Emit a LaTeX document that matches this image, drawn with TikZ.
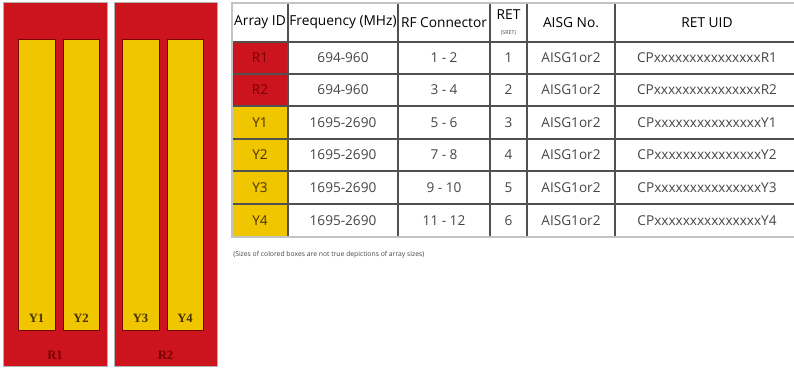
\documentclass[tikz,border=0pt]{standalone}
\usepackage{fontspec}
\setmainfont{Open Sans}
\newfontfamily\labfont{Liberation Serif}
\definecolor{ared}{RGB}{204,20,30}
\definecolor{ayel}{RGB}{240,198,0}
\definecolor{redtxt}{RGB}{120,0,0}
\definecolor{yeltxt}{RGB}{70,50,0}
\definecolor{innerline}{RGB}{80,80,80}
\definecolor{outerline}{RGB}{195,195,195}
\definecolor{bodytxt}{RGB}{70,70,70}
\begin{document}
\begin{tikzpicture}[x=0.75pt,y=-0.75pt,
  redpanel/.style={draw=black!30, line width=0.5pt, fill=ared},
  yelbar/.style={draw=redtxt, line width=0.5pt, fill=ayel},
  barlab/.style={font=\labfont\bfseries\fontsize{9.5}{10}\selectfont, text=yeltxt, inner sep=0pt},
  panlab/.style={font=\labfont\bfseries\fontsize{9.5}{10}\selectfont, text=redtxt, inner sep=0pt},
  hdr/.style={font=\fontsize{10.3}{12}\selectfont, text=black, inner sep=0pt},
  cell/.style={font=\fontsize{10.2}{12}\selectfont, text=bodytxt, inner sep=0pt},
  redcell/.style={font=\fontsize{10.2}{12}\selectfont, text=redtxt, inner sep=0pt},
  yelcell/.style={font=\fontsize{10.2}{12}\selectfont, text=yeltxt, inner sep=0pt},
  inner/.style={draw=innerline, line width=1.1pt},
  outer/.style={draw=outerline, line width=1.4pt}
]
\useasboundingbox (0,0) rectangle (794,369);
\fill[white] (0,0) rectangle (794,369);

% ---- left panels ----
\path[redpanel] (3,2) rectangle (107,366);
\path[redpanel] (114,2) rectangle (217,366);
\path[yelbar] (18,39) rectangle (55,330);
\path[yelbar] (63,39) rectangle (99,330);
\path[yelbar] (122,39) rectangle (159,330);
\path[yelbar] (167,39) rectangle (203,330);
\node[barlab] (ly1) at (36.5,318) {Y1};
\node[barlab] (ly2) at (81,318) {Y2};
\node[barlab] (ly3) at (140.5,318) {Y3};
\node[barlab] (ly4) at (185,318) {Y4};
\node[panlab] (lr1) at (55,355) {R1};
\node[panlab] (lr2) at (165.5,355) {R2};

% ---- table ----
\fill[ared] (232,42) rectangle (288,106);
\fill[ayel] (232,106) rectangle (288,237);
\foreach \yy in {42,74,106,139,171,204} \draw[inner] (232,\yy) -- (800,\yy);
\foreach \xx in {288,398,490,527,615} \draw[inner] (\xx,3) -- (\xx,237);
\draw[outer] (800,3) -- (232,3) -- (232,237) -- (800,237);

% header
\node[hdr] (h1) at (260,22.5) {Array ID};
\node[hdr] (h2) at (343,22.5) {Frequency (MHz)};
\node[hdr] (h3) at (444,22.5) {RF Connector};
\node[hdr] (h4) at (508.5,15) {RET};
\node[font=\fontsize{4}{5}\selectfont, text=bodytxt, inner sep=0pt] (h4b) at (508.5,33) {(SRET)};
\node[hdr] (h5) at (571,22.5) {AISG No.};
\node[hdr] (h6) at (707,22.5) {RET UID};

% rows
\node[redcell] (a1) at (260,58) {R1};
\node[redcell] (a2) at (260,90) {R2};
\node[yelcell] (a3) at (260,122.5) {Y1};
\node[yelcell] (a4) at (260,155) {Y2};
\node[yelcell] (a5) at (260,187.5) {Y3};
\node[yelcell] (a6) at (260,220.5) {Y4};

\node[cell] (f1) at (343,58) {694-960};
\node[cell] (f2) at (343,90) {694-960};
\node[cell] (f3) at (343,122.5) {1695-2690};
\node[cell] (f4) at (343,155) {1695-2690};
\node[cell] (f5) at (343,187.5) {1695-2690};
\node[cell] (f6) at (343,220.5) {1695-2690};

\node[cell] (c1) at (444,58) {1 - 2};
\node[cell] (c2) at (444,90) {3 - 4};
\node[cell] (c3) at (444,122.5) {5 - 6};
\node[cell] (c4) at (444,155) {7 - 8};
\node[cell] (c5) at (444,187.5) {9 - 10};
\node[cell] (c6) at (444,220.5) {11 - 12};

\node[cell] (r1) at (508.5,58) {1};
\node[cell] (r2) at (508.5,90) {2};
\node[cell] (r3) at (508.5,122.5) {3};
\node[cell] (r4) at (508.5,155) {4};
\node[cell] (r5) at (508.5,187.5) {5};
\node[cell] (r6) at (508.5,220.5) {6};

\node[cell] (s1) at (571,58) {AISG1or2};
\node[cell] (s2) at (571,90) {AISG1or2};
\node[cell] (s3) at (571,122.5) {AISG1or2};
\node[cell] (s4) at (571,155) {AISG1or2};
\node[cell] (s5) at (571,187.5) {AISG1or2};
\node[cell] (s6) at (571,220.5) {AISG1or2};

\node[cell] (u1) at (707,58) {CPxxxxxxxxxxxxxxxR1};
\node[cell] (u2) at (707,90) {CPxxxxxxxxxxxxxxxR2};
\node[cell] (u3) at (707,122.5) {CPxxxxxxxxxxxxxxxY1};
\node[cell] (u4) at (707,155) {CPxxxxxxxxxxxxxxxY2};
\node[cell] (u5) at (707,187.5) {CPxxxxxxxxxxxxxxxY3};
\node[cell] (u6) at (707,220.5) {CPxxxxxxxxxxxxxxxY4};

\node[font=\fontsize{5.1}{6}\selectfont, text=bodytxt, anchor=west, inner sep=0pt] (note) at (233,255) {(Sizes of colored boxes are not true depictions of array sizes)};
\end{tikzpicture}
\end{document}
